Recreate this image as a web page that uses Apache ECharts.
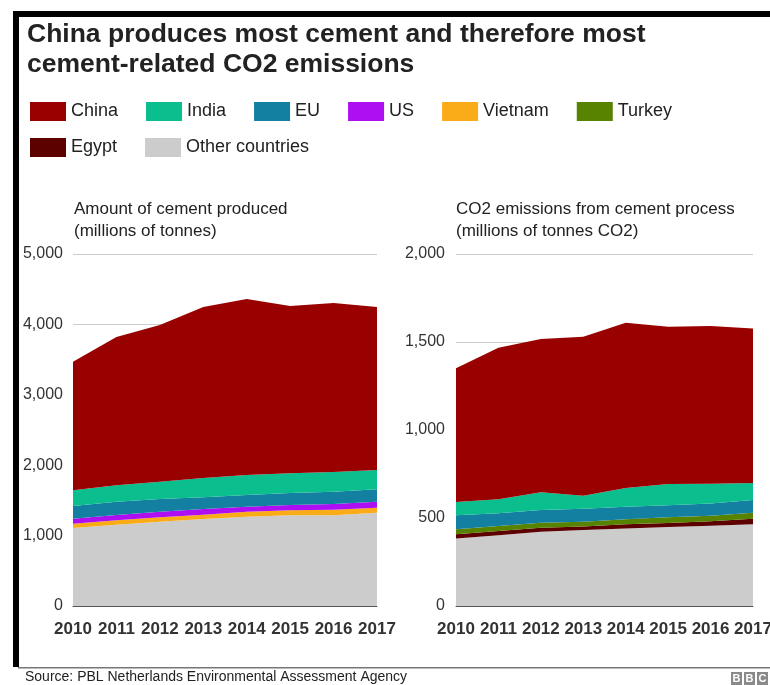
<!DOCTYPE html>
<html>
<head>
<meta charset="utf-8">
<script src="https://cdn.jsdelivr.net/npm/echarts@6/dist/echarts.min.js"></script>
<style>
  html, body { margin: 0; padding: 0; background: #fff; }
  #chart { width: 770px; height: 685px; }
</style>
</head>
<body>
<div id="chart"></div>
<script>
// ---- Data ----
const years = ['2010', '2011', '2012', '2013', '2014', '2015', '2016', '2017'];

// Amount of cement produced (millions of tonnes), stacked bottom-up
const prodOther   = [1108, 1155, 1198, 1236, 1269, 1288, 1288, 1325];
const prodVietnam = [61, 62, 62, 61, 71, 71, 80, 71];
const prodUS      = [71, 76, 80, 81, 71, 76, 81, 85];
const prodEU      = [180, 189, 180, 166, 166, 170, 175, 176];
const prodIndia   = [223, 232, 246, 274, 284, 280, 279, 275];
const prodChina   = [1827, 2107, 2225, 2429, 2500, 2376, 2401, 2315];

// CO2 emissions from cement process (millions of tonnes CO2), stacked bottom-up
const co2Other  = [383, 402, 422, 432, 441, 449, 456, 464];
const co2Egypt  = [24, 24, 23, 19, 23, 23, 25, 32];
const co2Turkey = [29, 29, 28, 28, 29, 32, 32, 34];
const co2EU     = [79, 72, 72, 74, 71, 68, 70, 72];
const co2India  = [76, 79, 101, 74, 106, 121, 112, 97];
const co2China  = [760, 862, 871, 903, 940, 894, 896, 877];

const legendRow1 = ['China', 'India', 'EU', 'US', 'Vietnam', 'Turkey'];
const legendRow2 = ['Egypt', 'Other countries'];

const titleText = 'China produces most cement and therefore most\ncement-related CO2 emissions';
const leftSubtitle = 'Amount of cement produced\n(millions of tonnes)';
const rightSubtitle = 'CO2 emissions from cement process\n(millions of tonnes CO2)';
const sourceText = 'Source: PBL Netherlands Environmental Assessment Agency';

const colors = {
  'China': '#990000',
  'India': '#0ABF8D',
  'EU': '#1380A1',
  'US': '#AD0EF2',
  'Vietnam': '#FAAB18',
  'Turkey': '#588300',
  'Egypt': '#5C0000',
  'Other countries': '#CCCCCC'
};

const FONT = '"Liberation Sans", Arial, Helvetica, sans-serif';

function areaSeries(name, data, idx, stack) {
  return {
    name: name,
    type: 'line',
    xAxisIndex: idx,
    yAxisIndex: idx,
    stack: stack,
    data: data,
    symbol: 'none',
    smooth: false,
    lineStyle: { width: 0, color: colors[name] },
    itemStyle: { color: colors[name] },
    areaStyle: { color: colors[name], opacity: 1 },
    emphasis: { disabled: true }
  };
}

const fmt = v => v.toLocaleString('en-US');

const chart = echarts.init(document.getElementById('chart'), null, { renderer: 'canvas' });

const xAxisBase = (idx) => ({
  type: 'category',
  gridIndex: idx,
  data: years,
  boundaryGap: false,
  axisLine: { show: true, lineStyle: { color: '#555', width: 1 } },
  axisTick: { show: false },
  splitLine: { show: false },
  axisLabel: { interval: 0, hideOverlap: false, fontFamily: FONT, fontSize: 17, fontWeight: 'bold', color: '#333', margin: 15 }
});

const legendBase = {
  left: 30,
  orient: 'horizontal',
  itemWidth: 36,
  itemHeight: 19,
  itemGap: 28,
  icon: 'rect',
  padding: 0,
  selectedMode: false,
  textStyle: { fontFamily: FONT, fontSize: 18, color: '#222' }
};

chart.setOption({
  animation: false,
  backgroundColor: '#fff',
  title: [
    { text: titleText, left: 27, top: 20, padding: 0,
      textStyle: { fontFamily: FONT, fontSize: 26.5, fontWeight: 'bold', color: '#222', lineHeight: 30 } },
    { text: leftSubtitle, left: 74, top: 198, padding: 0,
      textStyle: { fontFamily: FONT, fontSize: 17, fontWeight: 'normal', color: '#222', lineHeight: 22 } },
    { text: rightSubtitle, left: 456, top: 198, padding: 0,
      textStyle: { fontFamily: FONT, fontSize: 17, fontWeight: 'normal', color: '#222', lineHeight: 22 } }
  ],
  legend: [
    Object.assign({}, legendBase, { top: 102, data: legendRow1 }),
    Object.assign({}, legendBase, { top: 138, data: legendRow2 })
  ],
  grid: [
    { left: 73, top: 254, width: 304, height: 352, containLabel: false, outerBoundsMode: 'none' },
    { left: 456, top: 254, width: 297, height: 352, containLabel: false, outerBoundsMode: 'none' }
  ],
  xAxis: [xAxisBase(0), xAxisBase(1)],
  yAxis: [
    { type: 'value', gridIndex: 0, min: 0, max: 5000, interval: 1000,
      axisLine: { show: false }, axisTick: { show: false },
      splitLine: { lineStyle: { color: '#CCCCCC', width: 1 } },
      axisLabel: { fontFamily: FONT, fontSize: 16, color: '#333', margin: 10, formatter: fmt } },
    { type: 'value', gridIndex: 1, min: 0, max: 2000, interval: 500,
      axisLine: { show: false }, axisTick: { show: false },
      splitLine: { lineStyle: { color: '#CCCCCC', width: 1 } },
      axisLabel: { fontFamily: FONT, fontSize: 16, color: '#333', margin: 11, formatter: fmt } }
  ],
  series: [
    areaSeries('Other countries', prodOther, 0, 'prod'),
    areaSeries('Vietnam', prodVietnam, 0, 'prod'),
    areaSeries('US', prodUS, 0, 'prod'),
    areaSeries('EU', prodEU, 0, 'prod'),
    areaSeries('India', prodIndia, 0, 'prod'),
    areaSeries('China', prodChina, 0, 'prod'),
    areaSeries('Other countries', co2Other, 1, 'co2'),
    areaSeries('Egypt', co2Egypt, 1, 'co2'),
    areaSeries('Turkey', co2Turkey, 1, 'co2'),
    areaSeries('EU', co2EU, 1, 'co2'),
    areaSeries('India', co2India, 1, 'co2'),
    areaSeries('China', co2China, 1, 'co2')
  ],
  graphic: [
    // frame: top bar and left bar
    { type: 'rect', shape: { x: 13, y: 11, width: 757, height: 6 }, style: { fill: '#000' }, silent: true },
    { type: 'rect', shape: { x: 13, y: 11, width: 6, height: 656 }, style: { fill: '#000' }, silent: true },
    // footer line
    { type: 'rect', shape: { x: 18, y: 667, width: 752, height: 1.5 }, style: { fill: '#777' }, silent: true },
    // source text
    { type: 'text', left: 25, top: 670, silent: true,
      style: { text: sourceText, fontFamily: FONT, fontSize: 14, fill: '#222' } },
    // BBC logo
    { type: 'group', left: 731, top: 672, silent: true, children: [
      { type: 'rect', shape: { x: 0, y: 0, width: 11, height: 13 }, style: { fill: '#8a8a8a' } },
      { type: 'rect', shape: { x: 13, y: 0, width: 11, height: 13 }, style: { fill: '#8a8a8a' } },
      { type: 'rect', shape: { x: 26, y: 0, width: 11, height: 13 }, style: { fill: '#8a8a8a' } },
      { type: 'text', style: { text: 'B', x: 5.5, y: 7, align: 'center', verticalAlign: 'middle', fontFamily: FONT, fontSize: 11, fontWeight: 'bold', fill: '#fff' } },
      { type: 'text', style: { text: 'B', x: 18.5, y: 7, align: 'center', verticalAlign: 'middle', fontFamily: FONT, fontSize: 11, fontWeight: 'bold', fill: '#fff' } },
      { type: 'text', style: { text: 'C', x: 31.5, y: 7, align: 'center', verticalAlign: 'middle', fontFamily: FONT, fontSize: 11, fontWeight: 'bold', fill: '#fff' } }
    ] }
  ]
});
</script>
</body>
</html>
